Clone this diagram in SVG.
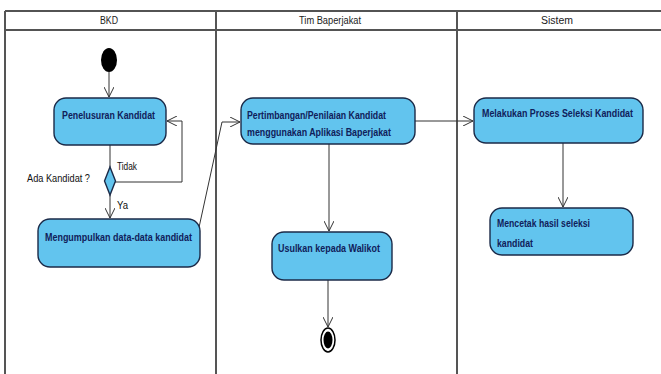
<svg xmlns="http://www.w3.org/2000/svg" width="661" height="374" viewBox="0 0 661 374">
  <style>
    .lane { stroke: #555; stroke-width: 2; fill: none; }
    .hline { stroke: #1a1a1a; stroke-width: 1.6; fill: none; }
    .head { font-family: "Liberation Sans", Arial, sans-serif; font-size: 10px; fill: #222; text-anchor: middle; }
    .act { fill: #62c4ee; stroke: #1b2a48; stroke-width: 1.4; }
    .label { font-family: "Liberation Sans", Arial, sans-serif; font-size: 11px; font-weight: bold; fill: #10205a; }
    .small { font-size: 10px; }
    .note { font-family: "Liberation Sans", Arial, sans-serif; font-size: 11px; fill: #111; }
    .flow { stroke: #333; stroke-width: 1; fill: none; marker-end: url(#open); }
    .plain { stroke: #333; stroke-width: 1; fill: none; }
  </style>
  <defs>
    <marker id="open" viewBox="0 0 10 10" refX="10" refY="5" markerWidth="10" markerHeight="10" markerUnits="userSpaceOnUse" orient="auto">
      <path d="M0,0 L10,5 L0,10" fill="none" stroke="#333" stroke-width="1"/>
    </marker>
  </defs>

  <rect width="661" height="374" fill="#fff"/>

  <!-- swimlanes -->
  <g id="lanes">
    <line class="hline" x1="5" y1="11" x2="661" y2="11"/>
    <line class="hline" x1="5" y1="30" x2="661" y2="30"/>
    <line class="lane" x1="5" y1="11" x2="5" y2="374"/>
    <line class="lane" x1="216" y1="11" x2="216" y2="374"/>
    <line class="lane" x1="457" y1="11" x2="457" y2="374"/>
    <text class="head" x="109" y="24" textLength="18" lengthAdjust="spacingAndGlyphs">BKD</text>
    <text class="head" x="330" y="24" textLength="62" lengthAdjust="spacingAndGlyphs">Tim Baperjakat</text>
    <text class="head" x="557" y="24" textLength="32" lengthAdjust="spacingAndGlyphs">Sistem</text>
  </g>

  <!-- connectors -->
  <g id="connectors">
    <line class="flow" x1="109" y1="72" x2="109" y2="97"/>
    <line class="plain" x1="110" y1="145" x2="110" y2="167"/>
    <polyline class="flow" points="115,182 182,182 182,121 167,121"/>
    <line class="flow" x1="110" y1="195" x2="110" y2="218"/>
    <polyline class="flow" points="198,232 222,122 240,122"/>
    <line class="flow" x1="415" y1="121" x2="473" y2="121"/>
    <line class="flow" x1="563" y1="143" x2="563" y2="207"/>
    <line class="flow" x1="329" y1="144" x2="329" y2="231"/>
    <line class="flow" x1="328" y1="280" x2="328" y2="327"/>
    <text class="note" x="117" y="170" textLength="20" lengthAdjust="spacingAndGlyphs">Tidak</text>
    <text class="note" x="117" y="209" textLength="11" lengthAdjust="spacingAndGlyphs">Ya</text>
  </g>

  <g id="start">
    <ellipse cx="109" cy="60" rx="8" ry="12" fill="#000"/>
  </g>

  <g id="penelusuran">
    <rect class="act" x="54" y="98" width="112" height="47" rx="12"/>
    <text class="label" x="62" y="119" textLength="93" lengthAdjust="spacingAndGlyphs">Penelusuran Kandidat</text>
  </g>

  <g id="decision">
    <polygon class="act" points="110,167 115.5,181 110,195 104.5,181"/>
    <text class="note" x="27" y="182" textLength="63" lengthAdjust="spacingAndGlyphs">Ada Kandidat ?</text>
  </g>

  <g id="mengumpulkan">
    <rect class="act" x="38" y="219" width="162" height="48" rx="12"/>
    <text class="label" x="45" y="241" textLength="147" lengthAdjust="spacingAndGlyphs">Mengumpulkan data-data kandidat</text>
  </g>

  <g id="pertimbangan">
    <rect class="act" x="241" y="98" width="174" height="46" rx="12"/>
    <text class="label" x="247" y="119" textLength="139" lengthAdjust="spacingAndGlyphs">Pertimbangan/Penilaian Kandidat</text>
    <text class="label" x="247" y="136" textLength="144" lengthAdjust="spacingAndGlyphs">menggunakan Aplikasi Baperjakat</text>
  </g>

  <g id="usulkan">
    <rect class="act" x="272" y="232" width="120" height="48" rx="12"/>
    <text class="label" x="278" y="252" textLength="102" lengthAdjust="spacingAndGlyphs">Usulkan kepada Walikot</text>
  </g>

  <g id="melakukan">
    <rect class="act" x="474" y="98" width="169" height="45" rx="12"/>
    <text class="label small" x="482" y="117" textLength="151" lengthAdjust="spacingAndGlyphs">Melakukan Proses Seleksi Kandidat</text>
  </g>

  <g id="mencetak">
    <rect class="act" x="490" y="208" width="143" height="47" rx="12"/>
    <text class="label" x="497" y="227" textLength="93" lengthAdjust="spacingAndGlyphs">Mencetak hasil seleksi</text>
    <text class="label" x="497" y="247" textLength="36" lengthAdjust="spacingAndGlyphs">kandidat</text>
  </g>

  <g id="end">
    <ellipse cx="328" cy="340" rx="7" ry="12" fill="#fff" stroke="#000" stroke-width="1.5"/>
    <ellipse cx="328" cy="340" rx="4.5" ry="8.5" fill="#000"/>
  </g>
</svg>
